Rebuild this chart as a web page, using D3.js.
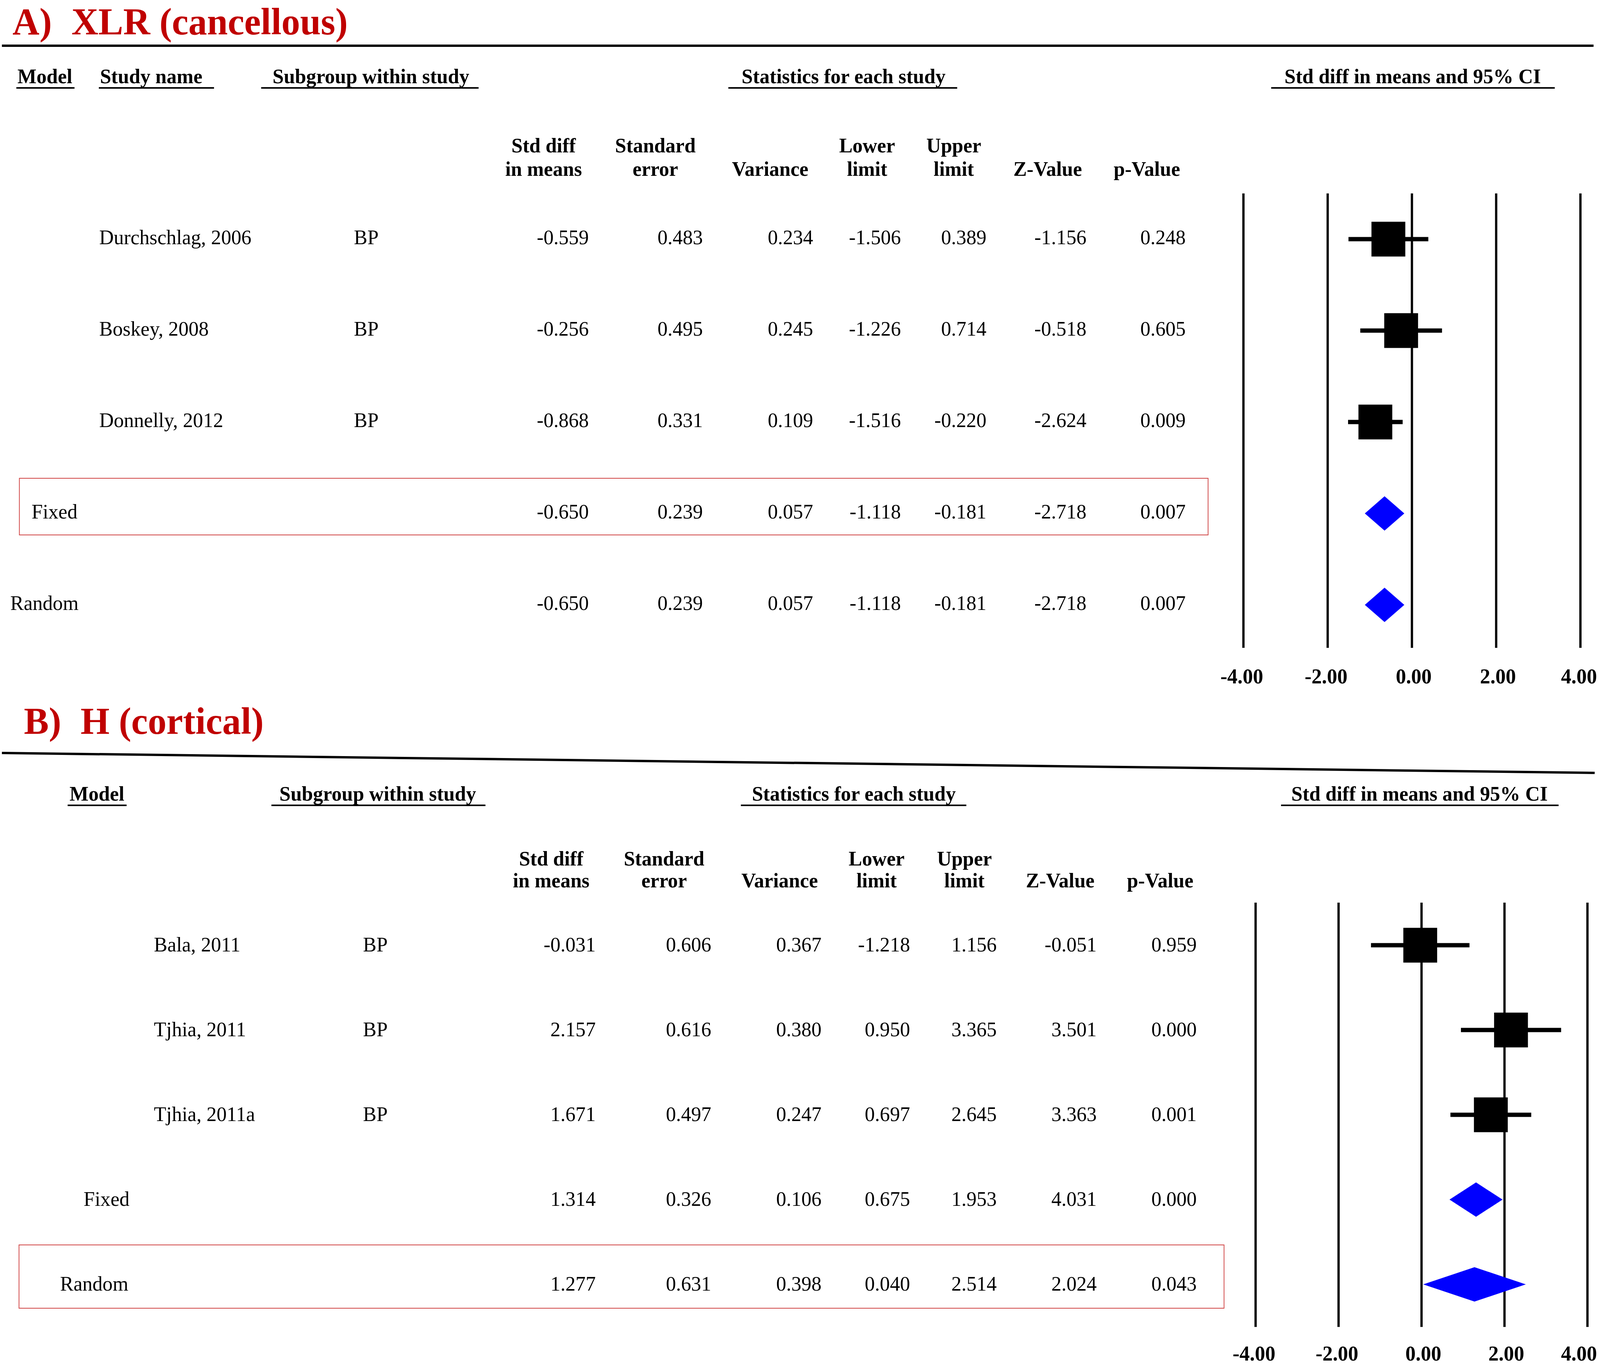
<!DOCTYPE html>
<html>
<head>
<meta charset="utf-8">
<script src="https://cdn.jsdelivr.net/npm/d3@7"></script>
<style>
  html, body { margin: 0; padding: 0; background: #fff; overflow: hidden; }
  svg { display: block; width: 100vw; height: 100vh; }
</style>
</head>
<body>
<div id="chart"></div>
<script>
// ---- panel A: XLR (cancellous) ----
const modelA = ['', '', '', 'Fixed', 'Random'];
const studyA = ['Durchschlag, 2006', 'Boskey, 2008', 'Donnelly, 2012', '', ''];
const subgroupA = ['BP', 'BP', 'BP', '', ''];
const stdDiffA = [-0.559, -0.256, -0.868, -0.650, -0.650];
const seA = [0.483, 0.495, 0.331, 0.239, 0.239];
const varianceA = [0.234, 0.245, 0.109, 0.057, 0.057];
const lowerA = [-1.506, -1.226, -1.516, -1.118, -1.118];
const upperA = [0.389, 0.714, -0.220, -0.181, -0.181];
const zA = [-1.156, -0.518, -2.624, -2.718, -2.718];
const pA = [0.248, 0.605, 0.009, 0.007, 0.007];
const headersA = ['Model', 'Study name', 'Subgroup within study', 'Statistics for each study', 'Std diff in means and 95% CI'];

// ---- panel B: H (cortical) ----
const modelB = ['', '', '', 'Fixed', 'Random'];
const studyB = ['Bala, 2011', 'Tjhia, 2011', 'Tjhia, 2011a', '', ''];
const subgroupB = ['BP', 'BP', 'BP', '', ''];
const stdDiffB = [-0.031, 2.157, 1.671, 1.314, 1.277];
const seB = [0.606, 0.616, 0.497, 0.326, 0.631];
const varianceB = [0.367, 0.380, 0.247, 0.106, 0.398];
const lowerB = [-1.218, 0.950, 0.697, 0.675, 0.040];
const upperB = [1.156, 3.365, 2.645, 1.953, 2.514];
const zB = [-0.051, 3.501, 3.363, 4.031, 2.024];
const pB = [0.959, 0.000, 0.001, 0.000, 0.043];
const headersB = ['Model', 'Subgroup within study', 'Statistics for each study', 'Std diff in means and 95% CI'];

// shared
const statHead1 = ['Std diff', 'Standard', '', 'Lower', 'Upper', '', ''];
const statHead2 = ['in means', 'error', 'Variance', 'limit', 'limit', 'Z-Value', 'p-Value'];
const xTicks = [-4, -2, 0, 2, 4];

const W = 4209, H = 3501;
const FONT = '"Liberation Serif", "Times New Roman", serif';
// plain hyphen for negatives, like the original table
const locale = d3.formatLocale({ decimal: '.', thousands: ',', grouping: [3], currency: ['', ''], minus: '-' });
const fmt3 = locale.format('.3f');
const fmtTick = locale.format('.2f');

// stretch the drawing to whatever viewport the browser really gives
const svg = d3.select('#chart').append('svg')
  .attr('viewBox', `0 0 ${W} ${H}`)
  .attr('preserveAspectRatio', 'none')
  .style('font-family', FONT);

svg.append('rect').attr('width', W).attr('height', H).attr('fill', '#fff');

const panels = [
  {
    title: ['A)', 'XLR (cancellous)'], titleX: [33, 188], titleY: 88,
    rule: [5, 117, 4192, 117],
    headers: headersA,
    headX: [46, 263, 717, 1951, 3379],
    headLine: [[43, 196], [260, 563], [687, 1259], [1916, 2518], [3344, 4090]],
    headY: 213, lineY: 225,
    subX: [1430, 1724, 2026, 2281, 2509, 2756, 3017], sub1Y: 390, sub2Y: 450,
    valX: [1549, 1849, 2139, 2370, 2595, 2858, 3119],
    model: modelA, modelX: [0, 0, 0, 83, 27],
    study: studyA, studyX: 261,
    subgroup: subgroupA, subgroupX: 931,
    cols: [stdDiffA, seA, varianceA, lowerA, upperA, zA, pA],
    rowY: [612, 1548], textDy: 13,
    box: [51, 1224, 3178, 1369],
    plotX: [3271, 4157.5], plotY: [495, 1658], tickY: 1749
  },
  {
    title: ['B)', 'H (cortical)'], titleX: [63, 212], titleY: 1878,
    rule: [5, 1927, 4195, 1978],
    headers: headersB,
    headX: [183, 735, 1978, 3397],
    headLine: [[178, 333], [714, 1277], [1949, 2542], [3370, 4100]],
    headY: 2049, lineY: 2061,
    subX: [1450, 1747, 2051, 2306, 2537, 2789, 3052], sub1Y: 2215, sub2Y: 2271,
    valX: [1567, 1871, 2161, 2394, 2622, 2885, 3148],
    model: modelB, modelX: [0, 0, 0, 220, 158],
    study: studyB, studyX: 405,
    subgroup: subgroupB, subgroupX: 955,
    cols: [stdDiffB, seB, varianceB, lowerB, upperB, zB, pB],
    rowY: [2419, 3287], textDy: 16,
    box: [50, 3186, 3220, 3348],
    plotX: [3303, 4176], plotY: [2310, 3396], tickY: 3482
  }
];

panels.forEach(drawPanel);

function drawPanel(p) {
  const g = svg.append('g');
  const n = p.cols[0].length;
  const y = d3.scaleLinear().domain([0, n - 1]).range(p.rowY);
  const x = d3.scaleLinear().domain([-4, 4]).range(p.plotX);

  // title
  g.selectAll('text.title')
    .data(p.title)
    .enter().append('text')
    .attr('class', 'title')
    .attr('x', (d, i) => p.titleX[i])
    .attr('y', p.titleY)
    .attr('fill', '#c00000')
    .attr('font-size', 98)
    .attr('font-weight', 'bold')
    .text(d => d);

  // rule under title
  g.append('line')
    .attr('x1', p.rule[0]).attr('y1', p.rule[1])
    .attr('x2', p.rule[2]).attr('y2', p.rule[3])
    .attr('stroke', '#000').attr('stroke-width', 6);

  // column headers with underlines
  p.headers.forEach((h, i) => {
    g.append('text')
      .attr('x', p.headX[i]).attr('y', p.headY)
      .attr('font-size', 53).attr('font-weight', 'bold')
      .text(h);
    g.append('line')
      .attr('x1', p.headLine[i][0]).attr('x2', p.headLine[i][1])
      .attr('y1', p.lineY).attr('y2', p.lineY)
      .attr('stroke', '#000').attr('stroke-width', 4);
  });

  // statistics sub-headers
  statHead1.forEach((h, i) => {
    g.append('text')
      .attr('x', p.subX[i]).attr('y', p.sub1Y)
      .attr('text-anchor', 'middle')
      .attr('font-size', 53).attr('font-weight', 'bold')
      .text(h);
    g.append('text')
      .attr('x', p.subX[i]).attr('y', p.sub2Y)
      .attr('text-anchor', 'middle')
      .attr('font-size', 53).attr('font-weight', 'bold')
      .text(statHead2[i]);
  });

  // highlight box
  g.append('rect')
    .attr('x', p.box[0]).attr('y', p.box[1])
    .attr('width', p.box[2] - p.box[0]).attr('height', p.box[3] - p.box[1])
    .attr('fill', 'none').attr('stroke', '#d04545').attr('stroke-width', 2);

  // row labels
  const rows = d3.range(n);
  const rowText = (arr, xf, cls) => g.selectAll('text.' + cls)
    .data(rows)
    .enter().append('text')
    .attr('class', cls)
    .attr('x', xf)
    .attr('y', i => y(i) + p.textDy)
    .attr('font-size', 53)
    .text(i => arr[i]);

  rowText(p.model, i => p.modelX[i], 'model');
  rowText(p.study, p.studyX, 'study');
  rowText(p.subgroup, p.subgroupX, 'subgroup');

  p.cols.forEach((col, c) => {
    g.selectAll('text.col' + c)
      .data(col)
      .enter().append('text')
      .attr('class', 'col' + c)
      .attr('x', p.valX[c])
      .attr('y', (d, i) => y(i) + p.textDy)
      .attr('text-anchor', 'end')
      .attr('font-size', 53)
      .text(d => fmt3(d));
  });

  // forest plot grid lines
  g.selectAll('line.grid')
    .data(xTicks)
    .enter().append('line')
    .attr('class', 'grid')
    .attr('x1', d => x(d)).attr('x2', d => x(d))
    .attr('y1', p.plotY[0]).attr('y2', p.plotY[1])
    .attr('stroke', '#000').attr('stroke-width', 6);

  // tick labels; right-anchored so the last one stays inside the page
  g.selectAll('text.tick')
    .data(xTicks)
    .enter().append('text')
    .attr('class', 'tick')
    .attr('x', d => Math.min(x(d) + 52, W - 8))
    .attr('y', p.tickY)
    .attr('text-anchor', 'end')
    .attr('font-size', 54).attr('font-weight', 'bold')
    .text(d => fmtTick(d));

  const est = p.cols[0], lo = p.cols[3], hi = p.cols[4];
  const studyRows = rows.filter(i => p.study[i] !== '');
  const sumRows = rows.filter(i => p.study[i] === '');
  const sq = 89;

  g.selectAll('line.ci')
    .data(studyRows)
    .enter().append('line')
    .attr('class', 'ci')
    .attr('x1', i => x(lo[i])).attr('x2', i => x(hi[i]))
    .attr('y1', i => y(i)).attr('y2', i => y(i))
    .attr('stroke', '#000').attr('stroke-width', 11);

  g.selectAll('rect.sq')
    .data(studyRows)
    .enter().append('rect')
    .attr('class', 'sq')
    .attr('x', i => x(est[i]) - sq / 2)
    .attr('y', i => y(i) - sq / 2)
    .attr('width', sq).attr('height', sq)
    .attr('fill', '#000');

  const dh = 44;
  g.selectAll('path.diamond')
    .data(sumRows)
    .enter().append('path')
    .attr('class', 'diamond')
    .attr('d', i => `M${x(lo[i])},${y(i)}L${x(est[i])},${y(i) - dh}L${x(hi[i])},${y(i)}L${x(est[i])},${y(i) + dh}Z`)
    .attr('fill', '#0000ff');
}
</script>
</body>
</html>
